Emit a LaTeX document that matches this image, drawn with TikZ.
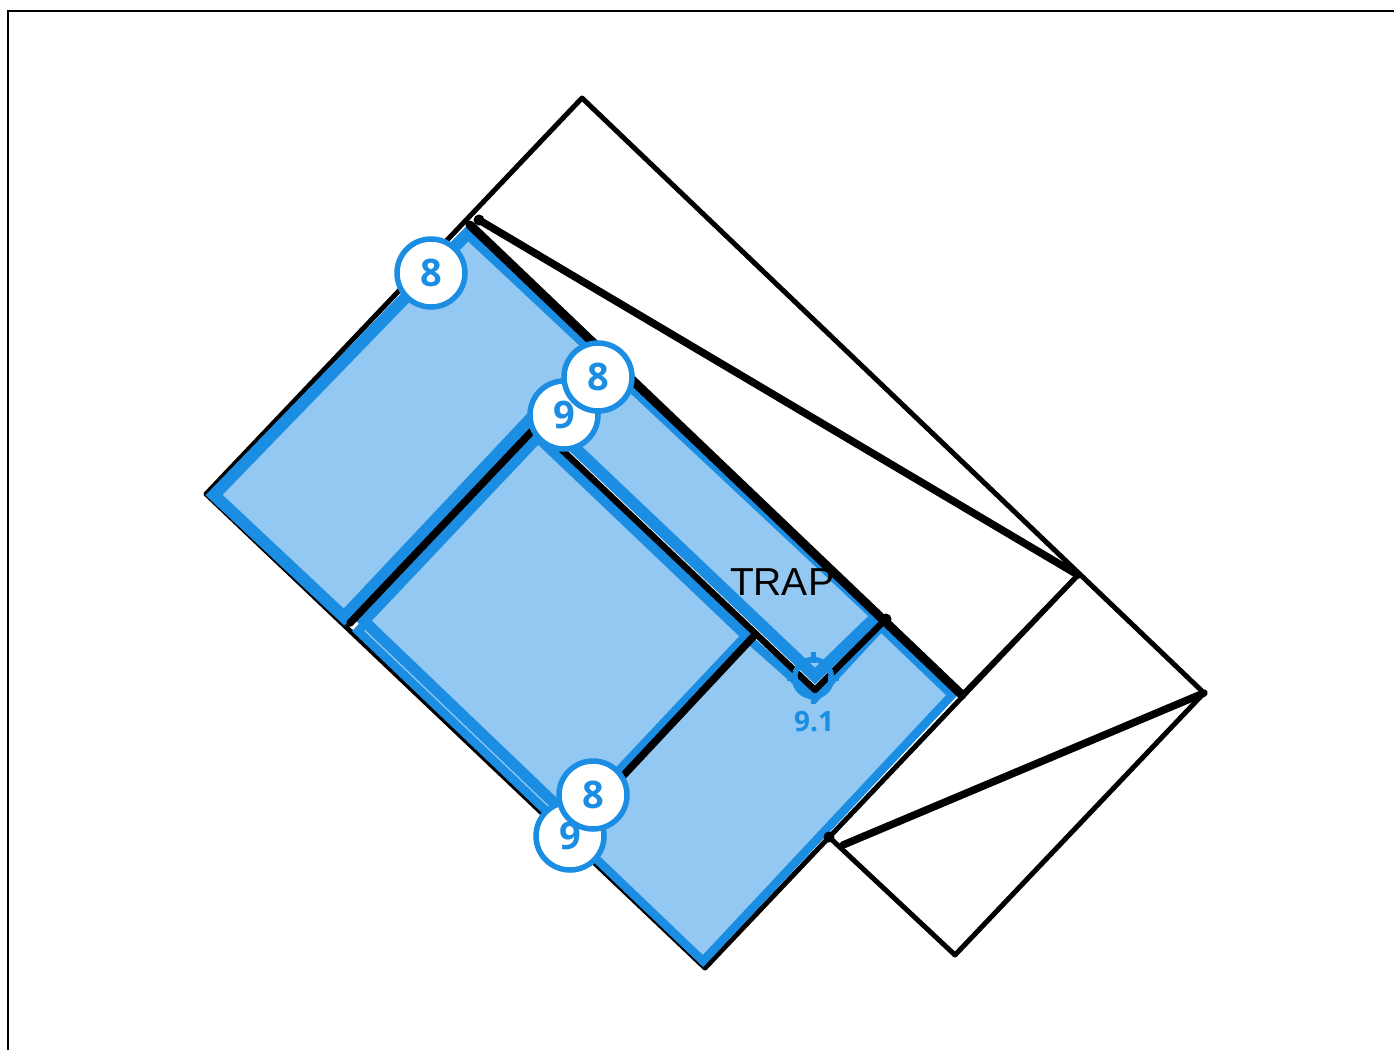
\documentclass[tikz,border=0pt]{standalone}
\usepackage{fontspec}
\setmainfont{Liberation Sans}
\newfontfamily\badgefont{Open Sans}
\definecolor{planblue}{HTML}{1B8DE3}
\definecolor{planfill}{HTML}{92C8F1}
\tikzset{
  wall/.style={draw=black,line width=5pt,line join=round,line cap=round},
  thickwall/.style={draw=black,line width=7.5pt,line cap=round,line join=round},
  zone/.style={draw=planblue,fill=planfill,line width=11pt,line join=miter},
  badge/.style={circle,draw=planblue,fill=white,line width=5.5pt,minimum size=68pt,inner sep=0pt,text=planblue,font=\badgefont\fontsize{38}{38}\selectfont\bfseries},
  ring/.style={draw=planblue,line width=5.5pt}
}
\begin{document}
\begin{tikzpicture}[x=1pt,y=-1pt]
   \useasboundingbox (0,0) rectangle (1394,1050);
   % frame
   \coordinate (f_0) at (8,1050);
   \coordinate (f_1) at (8,11);
   \coordinate (f_2) at (1394,11);
   \draw[line width=2.5pt,line join=miter] (f_0) -- (f_1) -- (f_2);
   % outline
   \coordinate (o_a) at (582,98);
   \coordinate (o_b) at (1204,693);
   \coordinate (o_c) at (955,955);
   \coordinate (o_d) at (829,837);
   \coordinate (o_e) at (206,494);
   \coordinate (o_f) at (705,968);
   \coordinate (o_g) at (1078,575);
   \coordinate (o_h) at (962,695);
   \coordinate (t_a) at (479,220);
   \coordinate (t_b) at (470,225);
   \coordinate (t_c) at (843,845);
   \draw[wall] (o_g) -- (o_f) -- (o_e) -- (o_a) -- (o_b) -- (o_c) -- (o_d);
   % zones
   \draw[zone,line width=8.5pt] (752,642) -- (815,698) -- (881,627) -- (952,695) -- (703,961) -- (358,631) -- (536,442) -- cycle;
   \draw[zone] (538,437) -- (747,636) -- (573,821) -- (364,621) -- cycle;
   \draw[zone,line width=12pt] (468,233) -- (877,616) -- (815,676) -- (537,412) -- (344,617) -- (214,495) -- cycle;
   % walls on top
   \coordinate (w_a) at (350,623);
   \coordinate (w_b) at (533,430);
   \coordinate (w_c) at (562,450);
   \coordinate (w_d) at (815,690);
   \coordinate (w_e) at (886,619);
   \coordinate (w_f) at (753,637);
   \coordinate (w_g) at (622,777);
   \draw[thickwall] (t_a) -- (o_g);
   \draw[thickwall] (o_b) -- (t_c);
   \draw[thickwall,line width=9pt] (t_b) -- (o_h);
   \draw[thickwall] (w_a) -- (w_b);
   \draw[thickwall,line width=6.5pt] (w_c) -- (w_d) -- (w_e);
   \draw[thickwall] (w_f) -- (w_g);
   \draw[wall] (o_h) -- (o_g);
   \foreach \p in {t_a,w_e,o_d}
      \fill (\p) circle (5.5pt);
   % target
   \node[circle,ring,fill=none,minimum size=37pt,inner sep=0pt] (target) at (813,678) {};
   \foreach \a in {0,90,180,270}
      \draw[ring,line width=5pt] (target.\a) ++(\a:-6pt) -- ++(\a:11pt);
   \node[text=planblue,font=\badgefont\fontsize{28}{28}\selectfont\bfseries] (tlabel) at (814,722) {9.1};
   \node[font=\fontsize{39}{39}\selectfont] (trap) at (782,582) {TRAP};
   % badges
   \node[badge] (b_0) at (431,273) {8};
   \node[badge] (b_2) at (564,415) {9};
   \node[badge] (b_1) at (598,377) {8};
   \node[badge] (b_4) at (570,836) {9};
   \node[badge] (b_3) at (593,795) {8};
\end{tikzpicture}
\end{document}
